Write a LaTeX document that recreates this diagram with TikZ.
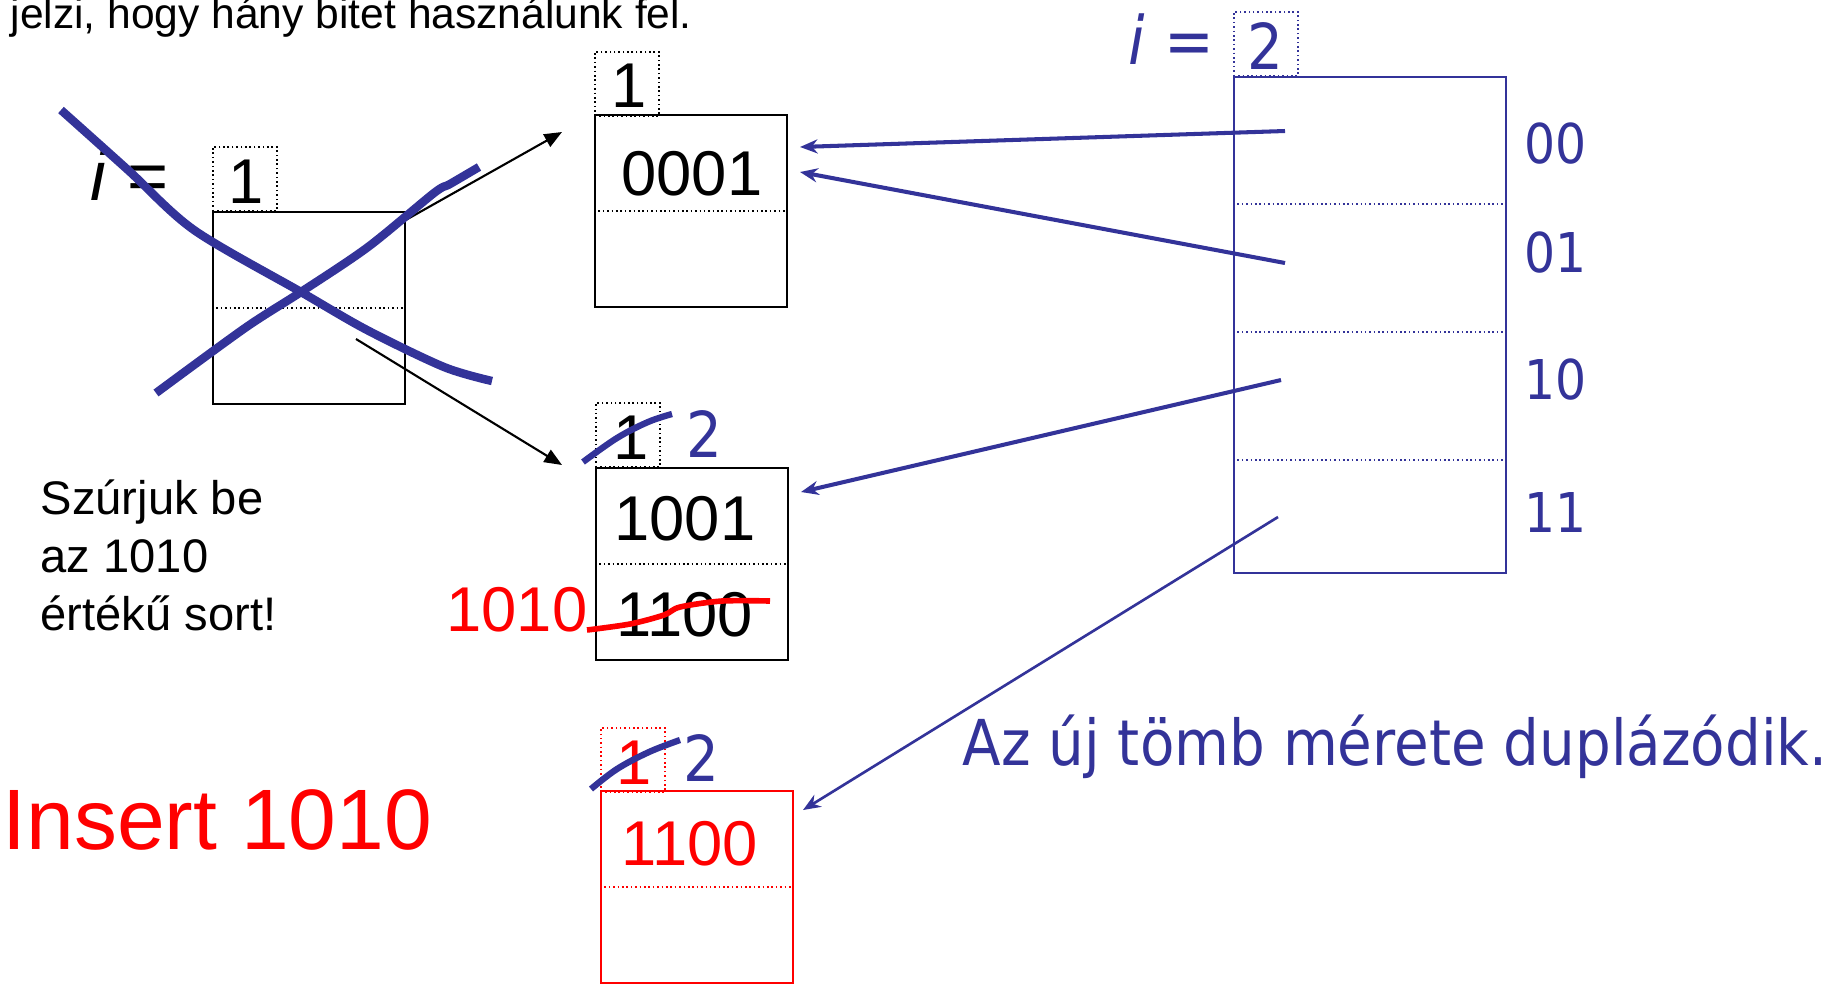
\documentclass[tikz,border=0pt]{standalone}
\usepackage{fontspec}
\setmainfont{Liberation Sans}
\newfontfamily\dirfont[FakeStretch=0.89]{DejaVu Sans}
\usetikzlibrary{arrows.meta}
\definecolor{dirBlue}{RGB}{51,51,153}
\definecolor{insRed}{RGB}{255,0,0}

\begin{document}
\begin{tikzpicture}[x=0.01cm, y=-0.01cm,
    bucket/.style={rectangle, draw=black, line width=0.6pt, inner sep=0pt,
                   minimum width=1.92cm, minimum height=1.92cm, anchor=north west},
    lbl/.style={rectangle, draw=black, finedots, inner sep=0pt,
                minimum width=0.64cm, minimum height=0.64cm, anchor=north west},
    finedots/.style={line width=0.45pt, dash pattern=on 0.45pt off 0.8pt},
    dig/.style={font=\fontsize{18}{20}\selectfont, inner sep=0pt, anchor=base},
    bdig/.style={font=\dirfont\fontsize{18}{20}\selectfont, text=dirBlue, inner sep=0pt, anchor=base},
    rowlbl/.style={font=\dirfont\fontsize{15.6}{18}\selectfont, text=dirBlue, inner sep=0pt, anchor=base west},
    ptr/.style={-{Stealth[length=5pt,width=4pt]}, line width=1.15pt, dirBlue},
    split/.style={-{Triangle[length=5pt,width=4pt]}, line width=0.6pt, black},
    strike/.style={line width=2.4pt, dirBlue},
    redstrike/.style={line width=1.6pt, insRed}]

    \useasboundingbox (0,0) rectangle (1831,984);

    % Heading line (cut at the top)
    \node[font=\fontsize{12.1}{14}\selectfont, inner sep=0pt, anchor=base west] (head) at (10,28)
      {jelzi, hogy hány bitet használunk fel.};

    % Old directory bucket
    \node[font=\fontsize{20}{22}\selectfont, inner sep=0pt, anchor=base west] (oldi) at (90,200) {\textit{i} =};
    \node[lbl] (oldlbl) at (212,146) {};
    \node[dig] (oldd) at (246,203) {1};
    \node[bucket] (old) at (212,211) {};
    \draw[finedots] (old.west) -- (old.east);

    % Bucket 0001
    \node[lbl] (lblA) at (594,51) {};
    \node[dig] (dA) at (629,107) {1};
    \node[bucket] (bA) at (594,114) {};
    \draw[finedots] (bA.west) -- (bA.east);
    \node[dig] (vA) at (692,195) {0001};

    % Bucket 1001 / 1100
    \node[lbl] (lblB) at (595,402) {};
    \node[dig] (dB) at (631,459) {1};
    \node[bdig] (nB) at (704,457) {2};
    \node[bucket] (bB) at (595,467) {};
    \draw[finedots] (bB.west) -- (bB.east);
    \node[dig] (vB1) at (685,540) {1001};
    \node[dig] (vB2) at (685,636) {1100};
    \node[dig, text=insRed] (newv) at (517,631) {1010};

    % New bucket
    \node[lbl, draw=insRed] (lblC) at (600,727) {};
    \node[dig, text=insRed] (dC) at (634,784) {1};
    \node[bdig] (nC) at (701,781) {2};
    \node[bucket, draw=insRed, line width=0.5pt] (bC) at (600,790) {};
    \draw[finedots, insRed] (bC.west) -- (bC.east);
    \node[dig, text=insRed] (vC) at (690,865) {1100};

    % New directory
    \node[font=\dirfont\fontsize{19}{21}\selectfont\itshape, text=dirBlue, inner sep=0pt, anchor=base west]
      (newi) at (1128,64) {i =};
    \node[lbl, draw=dirBlue] (dirlbl) at (1233,11) {};
    \node[bdig] (dird) at (1265,69) {2};
    \node[rectangle, draw=dirBlue, line width=0.6pt, inner sep=0pt, anchor=north west,
          minimum width=2.72cm, minimum height=4.96cm] (dir) at (1233,76) {};
    \foreach \dy in {1.28,2.56,3.84}
      \draw[finedots, dirBlue] ([yshift=-\dy cm]dir.north west) -- ([yshift=-\dy cm]dir.north east);
    \node[rowlbl] (r00) at (1524,163) {00};
    \node[rowlbl] (r01) at (1524,272) {01};
    \node[rowlbl] (r10) at (1524,399) {10};
    \node[rowlbl] (r11) at (1524,532) {11};

    % Pointers of the directory
    \coordinate (p00) at (1285,131);
    \coordinate (p01) at (1285,263);
    \coordinate (p10) at (1281,380);
    \coordinate (p11) at (1278,517);
    \coordinate (t00) at (800,147);
    \coordinate (t01) at (800,172);
    \coordinate (t10) at (801,492);
    \coordinate (t11) at (803,810);
    \draw[ptr] (p00) -- (t00);
    \draw[ptr] (p01) -- (t01);
    \draw[ptr] (p10) -- (t10);
    \draw[ptr, line width=0.75pt] (p11) -- (t11);

    % Old pointers
    \coordinate (s1) at (388,230);
    \coordinate (s2) at (356,339);
    \coordinate (e1) at (562,132);
    \coordinate (e2) at (562,465);
    \draw[split] (s1) -- (e1);
    \draw[split] (s2) -- (e2);

    % Crossing out
    \draw[strike] plot[smooth, tension=0.5] coordinates
      {(61,110) (128,170) (194,230) (301,292) (367,330) (444,367) (492,381)};
    \draw[strike] plot[smooth, tension=0.5] coordinates
      {(156,393) (245,328) (301,292) (368,247) (434,193) (450,184) (479,167)};
    \draw[strike, line width=1.8pt] plot[smooth, tension=0.6] coordinates
      {(583,462) (617,438) (648,422) (672,414)};
    \draw[strike, line width=1.8pt] plot[smooth, tension=0.6] coordinates
      {(591,789) (617,769) (649,752) (680,740)};
    \draw[redstrike] plot[smooth, tension=0.5] coordinates
      {(587,630) (630,624) (664,615) (680,607) (722,601) (770,601)};

    % Captions
    \node[font=\fontsize{13.4}{16.4}\selectfont, align=left, inner sep=0pt, anchor=base west] (ask) at (40,630)
      {Szúrjuk be\\az 1010\\értékű sort!};
    \node[font=\fontsize{24.4}{26}\selectfont, text=insRed, inner sep=0pt, anchor=base west] (ins) at (2,849)
      {Insert 1010};
    \node[font=\dirfont\fontsize{18}{20}\selectfont, text=dirBlue, inner sep=0pt, anchor=base west] (dbl) at (962,765)
      {Az új tömb mérete duplázódik.};

\end{tikzpicture}
\end{document}
